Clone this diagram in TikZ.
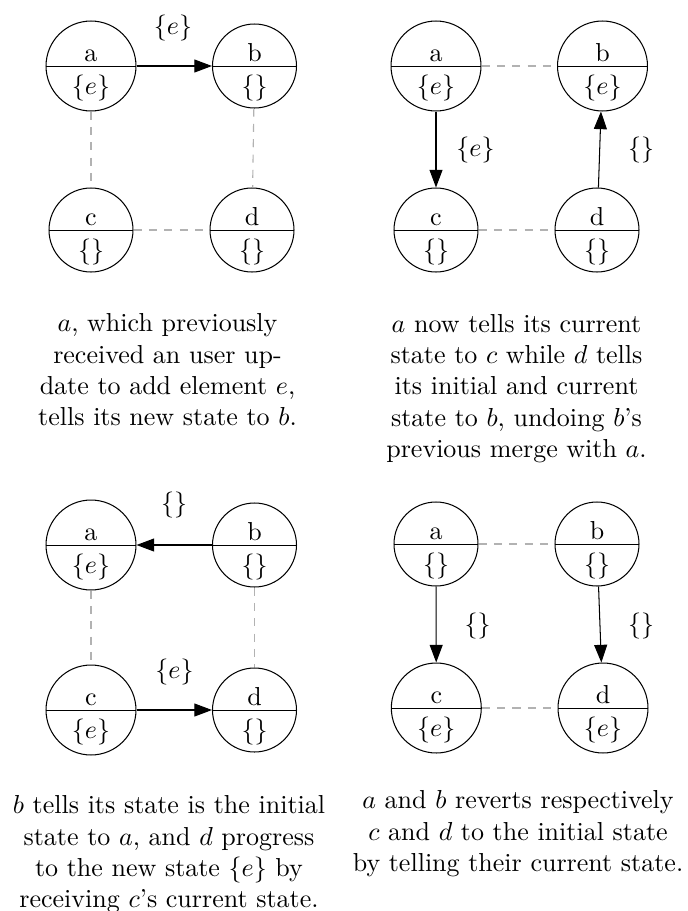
\documentclass[tikz,border=0pt]{standalone}
\usetikzlibrary{arrows.meta}
\definecolor{dashgray}{RGB}{178,178,178}
\tikzset{
  stcirc/.style={circle, draw, line width=0.4pt, inner sep=0pt,
    path picture={\draw[line width=0.35pt] ([xshift=-30pt]path picture bounding box.center) -- ([xshift=30pt]path picture bounding box.center);}},
  big/.style={minimum size=34.6pt},
  small/.style={minimum size=32.3pt},
  sttext/.style={inner sep=0pt, anchor=base},
  arr/.style={line width=0.4pt, -{Triangle[length=6.8pt,width=5pt]}},
  gdash/.style={draw=dashgray, line width=0.45pt, dash pattern=on 3.1pt off 2.8pt},
  elabel/.style={inner sep=0pt},
  capt/.style={inner sep=0pt, anchor=north, align=center, font=\fontsize{10}{12.1}\selectfont},
}
\newcommand{\statecirc}[6]{%
  \node[stcirc,#6] (#1) at (#2,#3) {};
  \node[sttext] (#1-n) at ([yshift=1.9pt]#1.center) {#4};
  \node[sttext] (#1-s) at ([yshift=-10.8pt]#1.center) {#5};
}
\begin{document}
\begin{tikzpicture}[x=0.3846pt,y=-0.3846pt]
\useasboundingbox (0,0) rectangle (688,911);
% ---------- Panel 1 ----------
\statecirc{p1a}{91}{66}{a}{$\{e\}$}{big}
\statecirc{p1b}{254.5}{66}{b}{$\{\}$}{small}
\statecirc{p1c}{91}{230}{c}{$\{\}$}{small}
\statecirc{p1d}{252}{230}{d}{$\{\}$}{small}
\draw[arr] (p1a) -- (p1b);
\draw[gdash] (p1a) -- (p1c);
\draw[gdash] (p1b) -- (p1d);
\draw[gdash] (p1c) -- (p1d);
\node[elabel] (p1l1) at (173,28) {$\{e\}$};
\node[capt] (p1cap) at (167.5,313) {$a$, which previously\\ received an user up-\\ date to add element $e$,\\ tells its new state to $b$.};
% ---------- Panel 2 ----------
\statecirc{p2a}{436}{66}{a}{$\{e\}$}{big}
\statecirc{p2b}{602.5}{66}{b}{$\{e\}$}{big}
\statecirc{p2c}{436}{230}{c}{$\{\}$}{small}
\statecirc{p2d}{597}{230}{d}{$\{\}$}{small}
\draw[gdash] (p2a) -- (p2b);
\draw[gdash] (p2c) -- (p2d);
\draw[arr] (p2a) -- (p2c);
\draw[arr] (p2d) -- (p2b);
\node[elabel] (p2l1) at (475.5,150) {$\{e\}$};
\node[elabel] (p2l2) at (641,150) {$\{\}$};
\node[capt] (p2cap) at (516.5,313.5) {$a$ now tells its current\\ state to $c$ while $d$ tells\\ its initial and current\\ state to $b$, undoing $b$'s\\ previous merge with $a$.};
% ---------- Panel 3 ----------
\statecirc{p3a}{91}{545}{a}{$\{e\}$}{big}
\statecirc{p3b}{254.5}{545}{b}{$\{\}$}{small}
\statecirc{p3c}{91}{710}{c}{$\{e\}$}{big}
\statecirc{p3d}{254.5}{710}{d}{$\{\}$}{small}
\draw[arr] (p3b) -- (p3a);
\draw[gdash] (p3a) -- (p3c);
\draw[gdash] (p3b) -- (p3d);
\draw[arr] (p3c) -- (p3d);
\node[elabel] (p3l1) at (174,505) {$\{\}$};
\node[elabel] (p3l2) at (174.5,671.5) {$\{e\}$};
\node[capt] (p3cap) at (169,795) {$b$ tells its state is the initial\\ state to $a$, and $d$ progress\\ to the new state $\{e\}$ by\\ receiving $c$'s current state.};
% ---------- Panel 4 ----------
\statecirc{p4a}{436}{544}{a}{$\{\}$}{small}
\statecirc{p4b}{597}{544}{b}{$\{\}$}{small}
\statecirc{p4c}{436.3}{708}{c}{$\{e\}$}{big}
\statecirc{p4d}{603}{708}{d}{$\{e\}$}{big}
\draw[gdash] (p4a) -- (p4b);
\draw[gdash] (p4c) -- (p4d);
\draw[arr] (p4a) -- (p4c);
\draw[arr] (p4b) -- (p4d);
\node[elabel] (p4l1) at (477.5,625.5) {$\{\}$};
\node[elabel] (p4l2) at (641,625.5) {$\{\}$};
\node[capt] (p4cap) at (518,790) {$a$ and $b$ reverts respectively\\ $c$ and $d$ to the initial state\\ by telling their current state.};
\end{tikzpicture}
\end{document}
